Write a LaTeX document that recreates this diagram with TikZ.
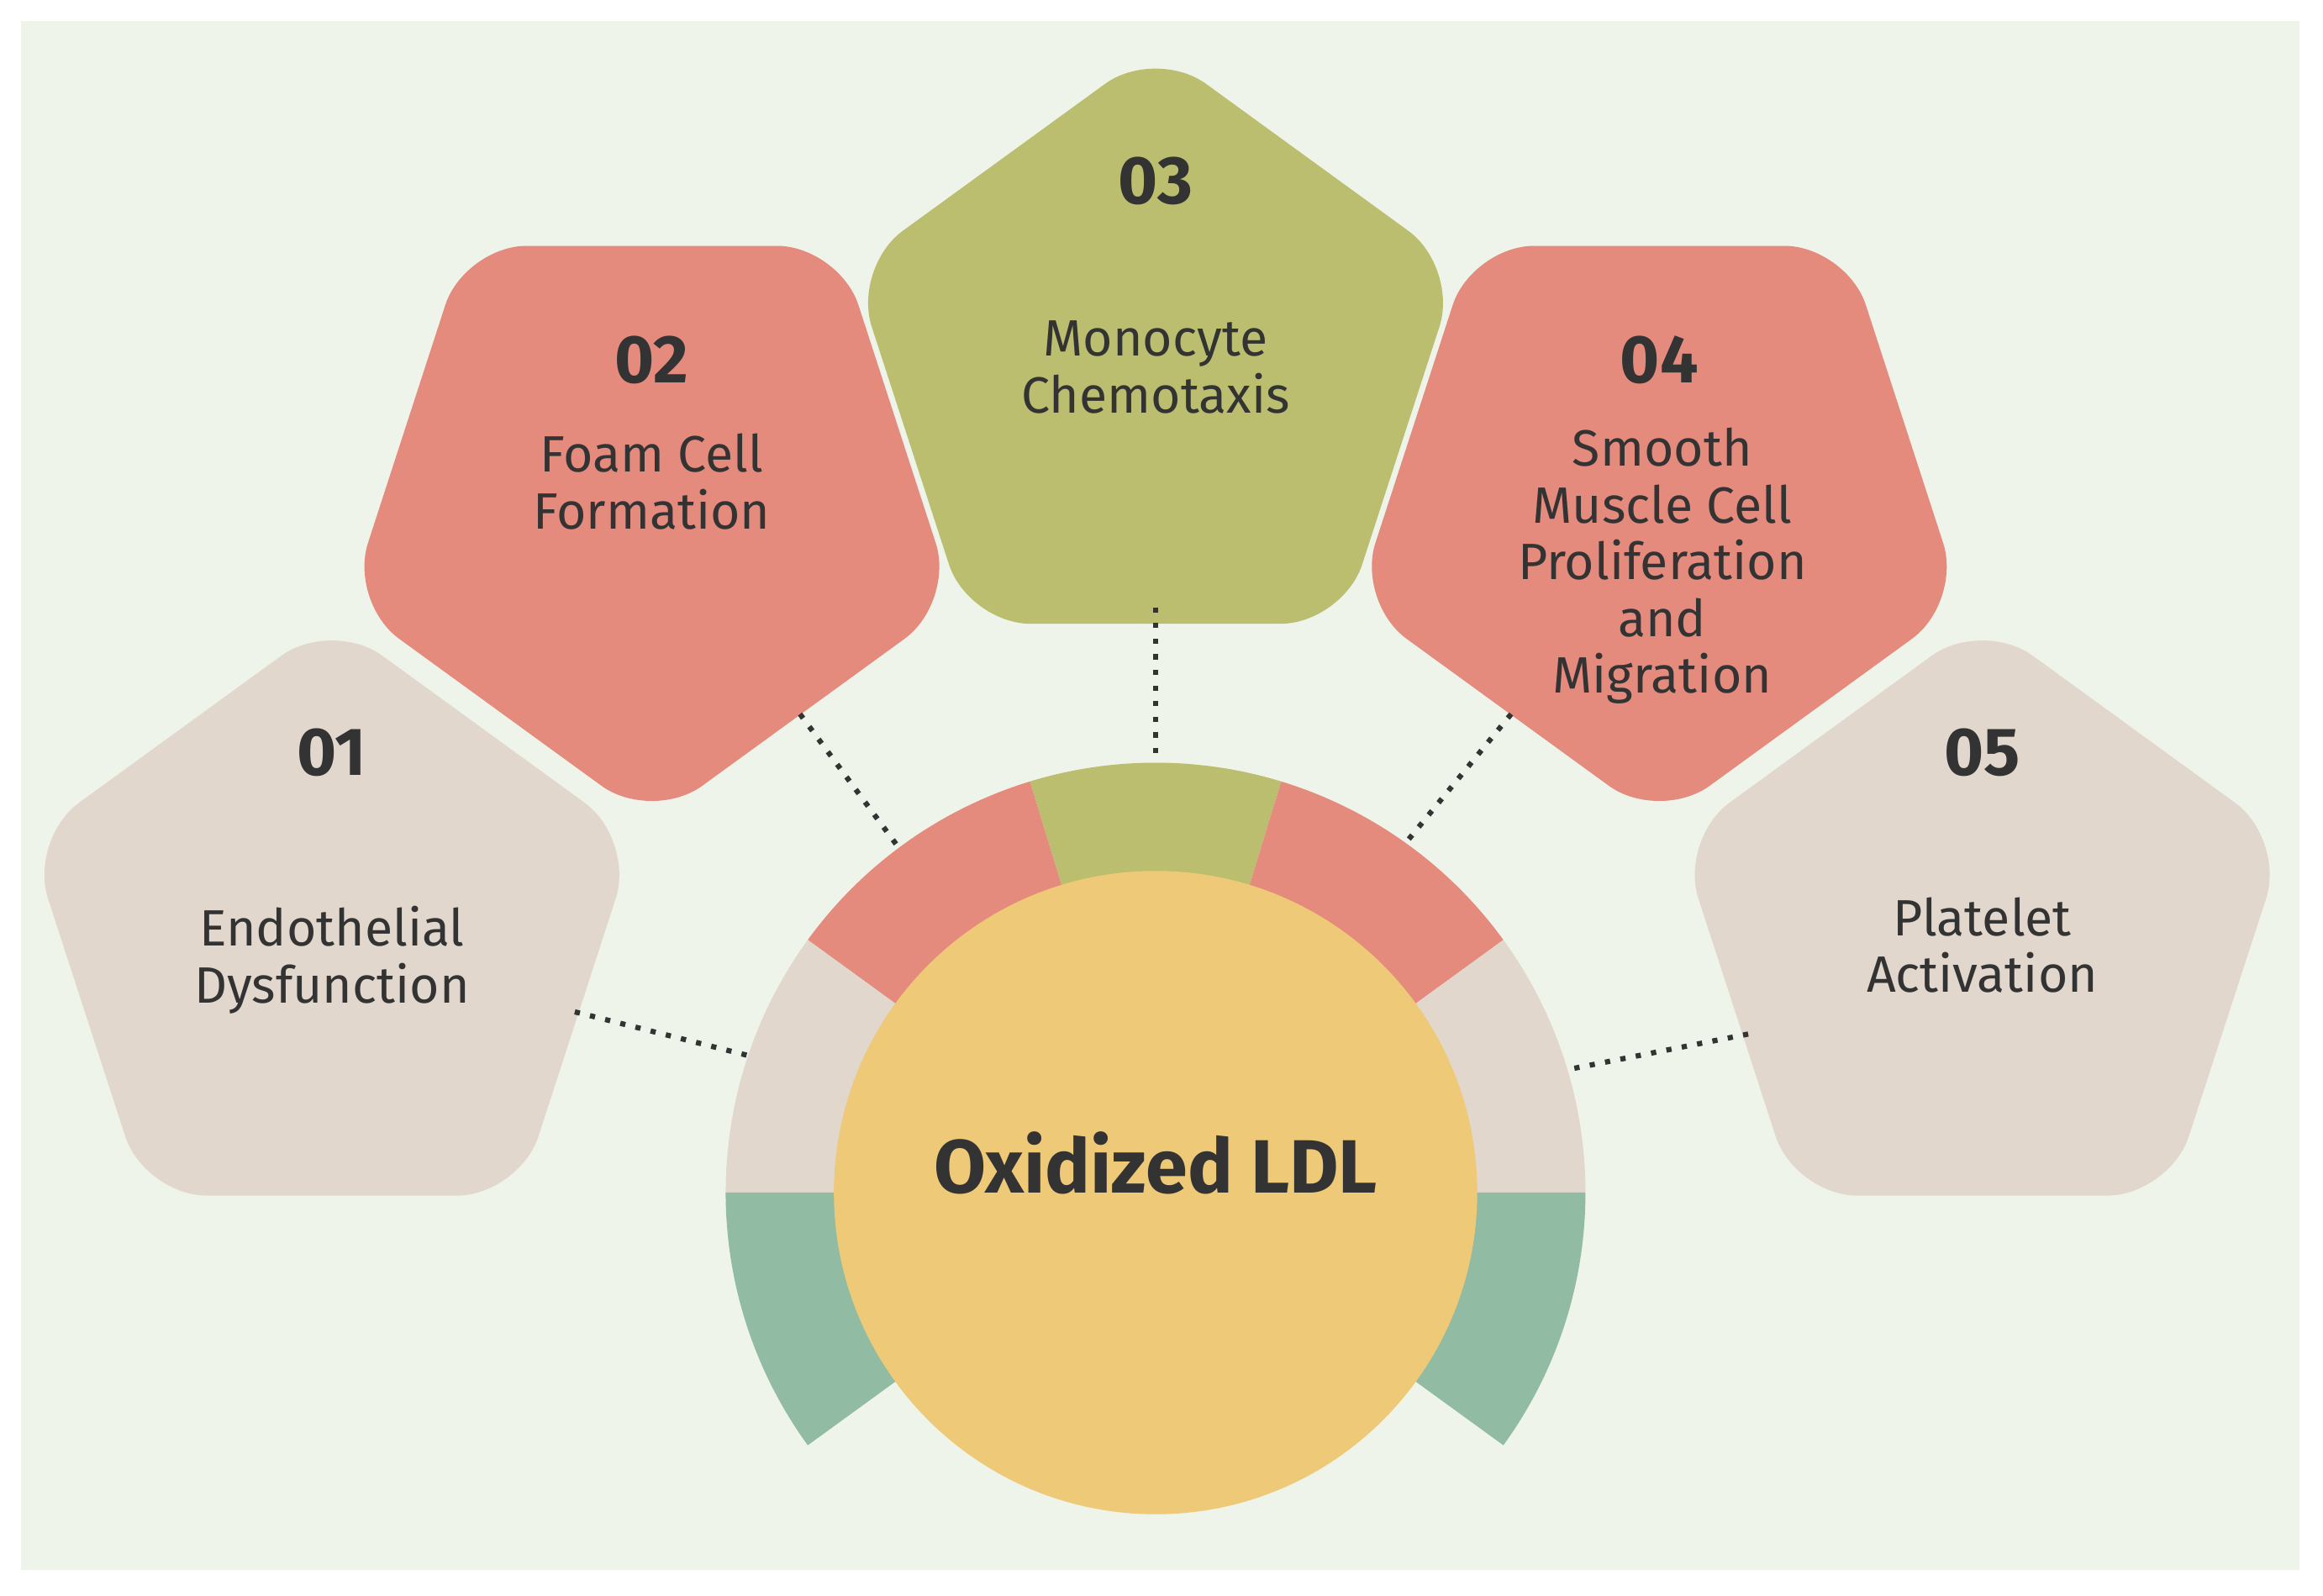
\documentclass[tikz,border=0pt]{standalone}
\usepackage{fontspec}
\setmainfont{Fira Sans}
\usetikzlibrary{shapes.geometric}
\definecolor{bgc}{HTML}{EFF4EA}
\definecolor{beige}{HTML}{E1D7CC}
\definecolor{redc}{HTML}{E48B7E}
\definecolor{greenc}{HTML}{BBBE6F}
\definecolor{teal}{HTML}{92BBA3}
\definecolor{yel}{HTML}{EEC977}
\definecolor{txt}{HTML}{333333}
\begin{document}
\begin{tikzpicture}[x=0.01cm,y=-0.01cm,
  pent/.style={regular polygon,regular polygon sides=5,minimum size=4.3cm,inner sep=0pt,rounded corners=0.42cm,draw=none},
  num/.style={text=txt,font=\fontsize{13pt}{14pt}\selectfont\bfseries},
  lab/.style={text=txt,font=\fontsize{9.8pt}{10.9pt}\selectfont,align=center},
  dot/.style={dotted,line width=1pt,draw=txt}]
\useasboundingbox (0,0) rectangle (1568,1077);
\fill[bgc] (14,14) rectangle (1552,1060);
% ring
\def\cx{780}\def\cy{805}
\foreach \a/\b/\c in {73/107/greenc,107/144/redc,36/73/redc,144/180/beige,0/36/beige,180/216/teal,-36/0/teal}{
  \fill[\c] (\cx,\cy) ++(\a:2.9cm) arc[start angle=\a,end angle=\b,radius=2.9cm] -- (\cx,\cy) -- cycle;}
\node[circle,fill=yel,minimum size=4.34cm,inner sep=0pt] (ldl) at (\cx,\cy) {};
\node[text=txt,font=\fontsize{14.5pt}{16pt}\selectfont\bfseries] at (780,785) {Oxidized LDL};
% pentagons
\node[pent,fill=beige] (p1) at (224,633) {};
\node[pent,fill=redc,shape border rotate=180] (p2) at (440,340) {};
\node[pent,fill=greenc] (p3) at (780,247) {};
\node[pent,fill=redc,shape border rotate=180] (p4) at (1120,340) {};
\node[pent,fill=beige] (p5) at (1338,633) {};
\node[num] at (224,508) {01};
\node[lab] at (224,648) {Endothelial\\Dysfunction};
\node[num] at (440,243) {02};
\node[lab] at (440,325) {Foam Cell\\Formation};
\node[num] at (780,122) {03};
\node[lab] at (780,248) {Monocyte\\Chemotaxis};
\node[num] at (1120,243) {04};
\node[lab] at (1122,382) {Smooth\\Muscle Cell\\Proliferation\\and\\Migration};
\node[num] at (1338,508) {05};
\node[lab] at (1338,638) {Platelet\\Activation};
% connectors
\coordinate (a1) at (388,683); \coordinate (b1) at (507,713);
\coordinate (a2) at (540,482); \coordinate (b2) at (605,570);
\coordinate (a3) at (780,410); \coordinate (b3) at (780,512);
\coordinate (a4) at (1020,482); \coordinate (b4) at (948,570);
\coordinate (a5) at (1180,698); \coordinate (b5) at (1058,722);
\foreach \i in {1,...,5}{\draw[dot] (a\i) -- (b\i);}
\end{tikzpicture}
\end{document}
